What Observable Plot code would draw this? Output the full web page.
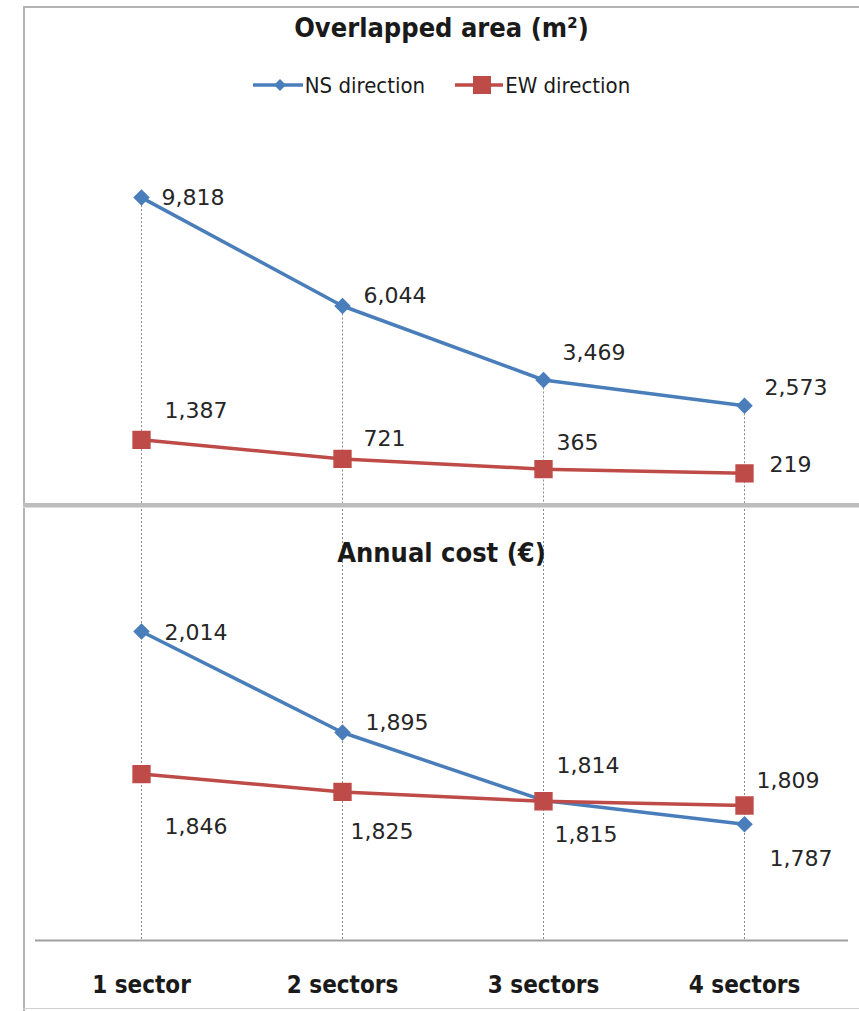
<!DOCTYPE html>
<html>
<head>
<meta charset="utf-8">
<script src="https://cdn.jsdelivr.net/npm/d3@7"></script>
<script src="https://cdn.jsdelivr.net/npm/@observablehq/plot@0.6"></script>
<style>
  body { margin: 0; background: #fff; }
  #chart { position: relative; width: 859px; height: 1011px; overflow: hidden;
           font-family: "DejaVu Sans Condensed", "DejaVu Sans", sans-serif; color: #1a1a1a; }
  .abs { position: absolute; }
  .title { left: 24px; width: 835px; text-align: center; font-weight: bold; font-size: 27px; line-height: 32px; }
  .legend { left: 24px; width: 835px; top: 71px; height: 28px; display: flex; justify-content: center; gap: 30px;
            font-size: 22px; align-items: center; }
  .legend span { display: inline-flex; align-items: center; gap: 2px; }
</style>
</head>
<body>
<div id="chart"></div>
<script>
// Categories and series
const categories = ["1 sector", "2 sectors", "3 sectors", "4 sectors"];
const seriesNames = ["NS direction", "EW direction"];
const seriesColors = ["#4a7ebb", "#be4b48"];

// Overlapped area (m²)
const areaNS = [9818, 6044, 3469, 2573];
const areaEW = [1387, 721, 365, 219];

// Annual cost (€)
const costNS = [2014, 1895, 1815, 1787];
const costEW = [1846, 1825, 1814, 1809];

// Value-label placement offsets [dx, dy] in pixels
const areaNSOffset = [[20, 0], [21, -10], [19, -27], [20, -18]];
const areaEWOffset = [[23, -29], [21, -20], [13, -26], [25, -8]];
const costNSOffset = [[23, 1], [23, -10], [11, 35], [25, 35]];
const costEWOffset = [[23, 53], [8, 40], [13, -35], [12, -25]];

const rowsOf = (series, values) => values.map((value, i) => ({ cat: categories[i], series, value }));
const fmt = d3.format(",");

const chart = document.getElementById("chart");

function seriesMarks(ns, ew) {
  return [
    Plot.line(ns, { x: "cat", y: "value", stroke: seriesColors[0], strokeWidth: 3.5 }),
    Plot.dot(ns, { x: "cat", y: "value", symbol: "diamond2", r: 6.5, fill: seriesColors[0], stroke: seriesColors[0] }),
    Plot.line(ew, { x: "cat", y: "value", stroke: seriesColors[1], strokeWidth: 3.5 }),
    Plot.dot(ew, { x: "cat", y: "value", symbol: "square", r: 9.5, fill: seriesColors[1], stroke: seriesColors[1] })
  ];
}

function valueLabels(rows, offsets) {
  return rows.map((d, i) => Plot.text([d], {
    x: "cat", y: "value", text: (r) => fmt(r.value),
    textAnchor: "start", dx: offsets[i][0], dy: offsets[i][1],
    fontSize: 22, fill: "#262626", fontFamily: "DejaVu Sans, sans-serif"
  }));
}

const plotStyle = { background: "transparent", overflow: "visible", fontFamily: "DejaVu Sans Condensed, DejaVu Sans, sans-serif" };
const xScale = { type: "point", domain: categories, range: [140, 745], padding: 0, align: 0.5 };

// Upper panel: overlapped area
const nsArea = rowsOf(seriesNames[0], areaNS);
const ewArea = rowsOf(seriesNames[1], areaEW);
const areaMin = -900;
const areaPlot = Plot.plot({
  width: 859, height: 505,
  marginTop: 0, marginBottom: 0, marginLeft: 35, marginRight: 11,
  style: plotStyle,
  x: { ...xScale, axis: null },
  y: { domain: [areaMin, 12000], range: [505, 134.4], axis: null },
  marks: [
    Plot.ruleX(nsArea, { x: "cat", y1: "value", y2: areaMin, stroke: "#8a8a8a", strokeWidth: 1, strokeDasharray: "2,2" }),
    ...seriesMarks(nsArea, ewArea),
    ...valueLabels(nsArea, areaNSOffset),
    ...valueLabels(ewArea, areaEWOffset)
  ]
});
areaPlot.classList.add("abs");
areaPlot.style.left = "0px";
areaPlot.style.top = "0px";
chart.appendChild(areaPlot);

// Lower panel: annual cost
const nsCost = rowsOf(seriesNames[0], costNS);
const ewCost = rowsOf(seriesNames[1], costEW);
const costMin = 1650;
const costPlot = Plot.plot({
  width: 859, height: 506,
  marginTop: 0, marginBottom: 71, marginLeft: 35, marginRight: 11,
  style: plotStyle,
  x: xScale,
  y: { domain: [costMin, 2100], range: [435, 53], axis: null },
  marks: [
    Plot.ruleX(categories, { stroke: "#8a8a8a", strokeWidth: 1, strokeDasharray: "2,2" }),
    Plot.ruleY([costMin], { stroke: "#a0a0a0", strokeWidth: 2 }),
    Plot.axisX({ tickSize: 0, tickPadding: 35, fontSize: 24, fontWeight: "bold", fill: "#1a1a1a", label: null }),
    ...seriesMarks(nsCost, ewCost),
    ...valueLabels(nsCost, costNSOffset),
    ...valueLabels(ewCost, costEWOffset)
  ]
});
costPlot.classList.add("abs");
costPlot.style.left = "0px";
costPlot.style.top = "505px";
chart.appendChild(costPlot);

// Panel frame
function box(css) {
  const d = document.createElement("div");
  d.className = "abs";
  Object.assign(d.style, css);
  chart.appendChild(d);
}
box({ left: "23px", top: "6px", width: "2px", height: "1005px", background: "#b4b4b4" });
box({ left: "23px", top: "6px", width: "836px", height: "2px", background: "#b4b4b4" });
box({ left: "23px", top: "503px", width: "836px", height: "4px", background: "#bdbdbd" });
box({ left: "23px", top: "507px", width: "836px", height: "1px", background: "#dcdcdc" });
box({ left: "23px", top: "1008px", width: "836px", height: "1px", background: "#d0d0d0" });

// Titles
function title(text, top) {
  const t = document.createElement("div");
  t.className = "abs title";
  t.style.top = top + "px";
  t.textContent = text;
  chart.appendChild(t);
}
title("Overlapped area (m²)", 12);
title("Annual cost (€)", 537);

// Legend
const legend = document.createElement("div");
legend.className = "abs legend";
const markerSvg = [
  `<svg width="50" height="20"><line x1="0" y1="10" x2="50" y2="10" stroke="${seriesColors[0]}" stroke-width="3.5"/><path d="M27,4 L33,10 L27,16 L21,10 Z" fill="${seriesColors[0]}"/></svg>`,
  `<svg width="48" height="20"><line x1="0" y1="10" x2="48" y2="10" stroke="${seriesColors[1]}" stroke-width="3.5"/><rect x="18" y="1" width="18" height="18" fill="${seriesColors[1]}"/></svg>`
];
seriesNames.forEach((name, i) => {
  const s = document.createElement("span");
  s.innerHTML = markerSvg[i] + `<span>${name}</span>`;
  legend.appendChild(s);
});
chart.appendChild(legend);
</script>
</body>
</html>
